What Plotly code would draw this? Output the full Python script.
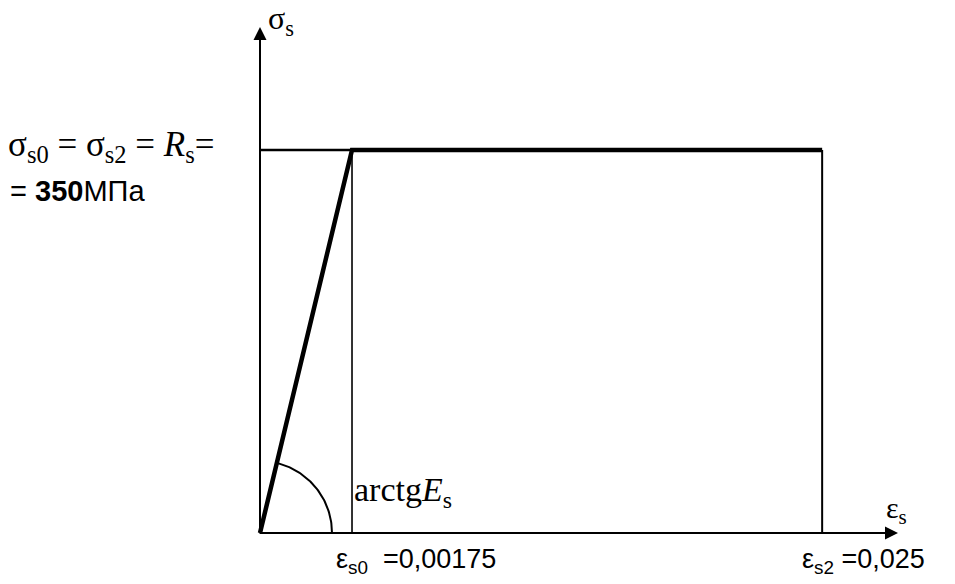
import numpy as np
import plotly.graph_objects as go

# Bilinear stress-strain diagram for reinforcing steel
strain_points = [0.0, 0.00175, 0.025]      # eps_s: origin, eps_s0, eps_s2
stress_points = [0.0, 350.0, 350.0]        # sigma_s, MPa
strain_labels = ["0,00175", "0,025"]
stress_label = "350"

# Schematic (not-to-scale) strain axis: eps_s0 -> 1, eps_s2 -> 6.11
schem_knots = [0.0, 1.0, 6.11]


def sx(eps):
    return np.interp(eps, strain_points, schem_knots)


W, H = 955, 584
x_range = [-2.826, 7.554]
y_range = [-46.6, 487.1]
px_x = W / (x_range[1] - x_range[0])
px_y = H / (y_range[1] - y_range[0])

eps0, eps2 = strain_points[1], strain_points[2]
Rs = stress_points[1]
x0, x2 = sx(eps0), sx(eps2)

fig = go.Figure()

# thin guide lines: yield level to axis, verticals at eps_s0 and eps_s2
fig.add_trace(go.Scatter(x=[0, x0], y=[Rs, Rs], mode="lines",
                         line=dict(color="black", width=2.5)))
fig.add_trace(go.Scatter(x=[x0, x0], y=[0, Rs], mode="lines",
                         line=dict(color="black", width=1.6)))
fig.add_trace(go.Scatter(x=[x2, x2], y=[0, Rs], mode="lines",
                         line=dict(color="black", width=2)))

# the diagram itself
fig.add_trace(go.Scatter(x=sx(np.array(strain_points)), y=stress_points, mode="lines",
                         line=dict(color="black", width=4.5)))

# angle arc (radius in pixels so it stays circular on screen)
r_px = 72
ang = np.arctan2(Rs * px_y, x0 * px_x)
t = np.linspace(0, ang, 60)
fig.add_trace(go.Scatter(x=r_px * np.cos(t) / px_x, y=r_px * np.sin(t) / px_y,
                         mode="lines", line=dict(color="black", width=2)))

# axes with arrows
fig.add_annotation(x=(898 - 260) / px_x, y=0, ax=-2 / px_x, ay=0,
                   xref="x", yref="y", axref="x", ayref="y",
                   showarrow=True, arrowhead=2, arrowsize=1.3, arrowwidth=2,
                   arrowcolor="black", text="")
fig.add_annotation(x=0, y=(533 - 27) / px_y, ax=0, ay=0,
                   xref="x", yref="y", axref="x", ayref="y",
                   showarrow=True, arrowhead=2, arrowsize=1.3, arrowwidth=2,
                   arrowcolor="black", text="")

serif = "Liberation Serif, Times New Roman, serif"
sans = "Liberation Sans, Arial, sans-serif"


def label(x, y, text, family, size, xanchor="left"):
    fig.add_annotation(x=x, y=y, xref="x", yref="y", text=text, showarrow=False,
                       xanchor=xanchor, yanchor="middle",
                       font=dict(family=family, size=size, color="black"))


def from_px(px, py):
    return (px - 260) / px_x, (533 - py) / px_y


label(*from_px(266, 20), "σ<sub>s</sub>", serif, 32)
label(*from_px(6, 146), "σ<sub>s0</sub> = σ<sub>s2</sub> = <i>R</i><sub>s</sub>=", serif, 35)
label(*from_px(8, 191), "= <b>" + stress_label + "</b>МПа", sans, 29)
label(*from_px(352, 492), "arctg<i>E</i><sub>s</sub>", serif, 34)
label(*from_px(884, 510), "ε<sub>s</sub>", serif, 30)
label(*from_px(334, 561), "ε<sub>s0</sub>  =" + strain_labels[0], sans, 27)
label(*from_px(800, 561), "ε<sub>s2</sub> =" + strain_labels[1], sans, 27)

fig.update_layout(
    width=W, height=H, margin=dict(l=0, r=0, t=0, b=0),
    paper_bgcolor="white", plot_bgcolor="white", showlegend=False,
    xaxis=dict(range=x_range, visible=False, fixedrange=True),
    yaxis=dict(range=y_range, visible=False, fixedrange=True),
)

fig.write_html("out.html")
